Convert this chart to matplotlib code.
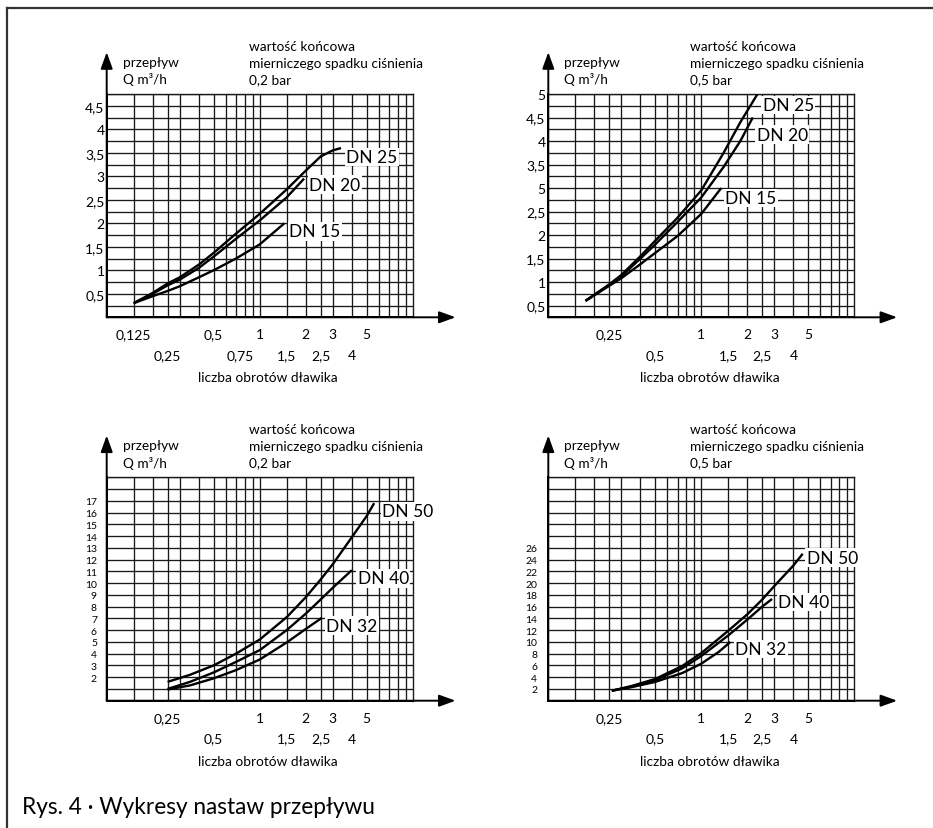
import matplotlib
matplotlib.use("Agg")
import matplotlib.pyplot as plt
from matplotlib.lines import Line2D

plt.rcParams['font.family'] = ['Lato', 'DejaVu Sans']

W, H = 933, 829
fig = plt.figure(figsize=(W / 100, H / 100), dpi=100)

# ---------------- data ----------------
x_grid = [0.15, 0.2, 0.25, 0.3, 0.4, 0.5, 0.6, 0.7, 0.8, 0.9, 1, 1.5, 2, 2.5, 3, 4, 5, 6, 7, 8, 9]

# Panel A: DN15/20/25, 0.2 bar
a_dn25_x = [0.15, 0.2, 0.25, 0.3, 0.4, 0.5, 0.7, 1.0, 1.5, 2.0, 2.5, 3.0, 3.4]
a_dn25_y = [0.3, 0.52, 0.72, 0.85, 1.12, 1.37, 1.78, 2.2, 2.72, 3.12, 3.42, 3.55, 3.6]
a_dn20_x = [0.15, 0.2, 0.25, 0.3, 0.4, 0.5, 0.7, 1.0, 1.5, 1.95]
a_dn20_y = [0.3, 0.5, 0.68, 0.8, 1.05, 1.29, 1.67, 2.06, 2.55, 2.95]
a_dn15_x = [0.15, 0.2, 0.25, 0.3, 0.4, 0.5, 0.7, 1.0, 1.45]
a_dn15_y = [0.3, 0.45, 0.56, 0.66, 0.85, 1.0, 1.25, 1.55, 2.0]

# Panel B: DN15/20/25, 0.5 bar
b_dn25_x = [0.175, 0.25, 0.3, 0.4, 0.5, 0.7, 1.0, 1.4, 1.8, 2.33]
b_dn25_y = [0.6, 0.95, 1.15, 1.55, 1.88, 2.37, 2.95, 3.75, 4.4, 5.0]
b_dn20_x = [0.175, 0.25, 0.3, 0.4, 0.5, 0.7, 1.0, 1.4, 1.8, 2.17]
b_dn20_y = [0.6, 0.93, 1.12, 1.5, 1.8, 2.28, 2.8, 3.45, 4.0, 4.5]
b_dn15_x = [0.175, 0.25, 0.3, 0.4, 0.5, 0.7, 1.0, 1.35]
b_dn15_y = [0.6, 0.92, 1.08, 1.38, 1.62, 1.98, 2.45, 3.0]

# Panel C: DN32/40/50, 0.2 bar
c_dn50_x = [0.25, 0.35, 0.5, 0.7, 1.0, 1.5, 2.0, 2.5, 3.0, 4.0, 5.0, 5.6]
c_dn50_y = [1.6, 2.2, 3.0, 4.0, 5.2, 7.1, 8.8, 10.3, 11.6, 13.9, 15.7, 16.8]
c_dn40_x = [0.25, 0.35, 0.5, 0.7, 1.0, 1.5, 2.0, 2.5, 3.0, 4.0]
c_dn40_y = [1.0, 1.6, 2.4, 3.3, 4.3, 6.0, 7.4, 8.6, 9.6, 11.1]
c_dn32_x = [0.25, 0.35, 0.5, 0.7, 1.0, 1.5, 2.0, 2.55]
c_dn32_y = [0.95, 1.3, 1.9, 2.6, 3.5, 4.95, 6.1, 7.05]

# Panel D: DN32/40/50, 0.5 bar
d_dn50_x = [0.26, 0.35, 0.5, 0.75, 1.0, 1.5, 2.0, 2.5, 3.0, 4.0, 4.6]
d_dn50_y = [1.7, 2.5, 3.7, 5.9, 8.1, 11.9, 14.7, 17.2, 19.5, 23.0, 25.0]
d_dn40_x = [0.26, 0.35, 0.5, 0.75, 1.0, 1.5, 2.0, 2.5, 2.9]
d_dn40_y = [1.7, 2.4, 3.5, 5.5, 7.6, 11.1, 13.8, 16.0, 17.3]
d_dn32_x = [0.26, 0.35, 0.5, 0.75, 1.0, 1.3, 1.55]
d_dn32_y = [1.7, 2.3, 3.2, 4.7, 6.3, 8.3, 10.0]

# tick labels
row1_a = [0.15, 0.5, 1, 2, 3, 5]
row1_a_lbl = ['0,125', '0,5', '1', '2', '3', '5']
row2_a = [0.25, 0.75, 1.5, 2.5, 4]
row2_a_lbl = ['0,25', '0,75', '1,5', '2,5', '4']
row1_b = [0.25, 1, 2, 3, 5]
row1_b_lbl = ['0,25', '1', '2', '3', '5']
row2_b = [0.5, 1.5, 2.5, 4]
row2_b_lbl = ['0,5', '1,5', '2,5', '4']

ya_ticks = [0.5, 1, 1.5, 2, 2.5, 3, 3.5, 4, 4.5]
ya_lbl = ['0,5', '1', '1,5', '2', '2,5', '3', '3,5', '4', '4,5']
ya_grid = [0.25 * i for i in range(1, 20)]
yb_ticks = [0.5, 1, 1.5, 2, 2.5, 3, 3.5, 4, 4.5, 5]
yb_lbl = ['0,5', '1', '1,5', '2', '2,5', '5', '3,5', '4', '4,5', '5']
yb_grid = [0.25 * i for i in range(2, 21)]
yc_ticks = list(range(2, 18))
yc_lbl = [str(v) for v in yc_ticks]
yc_grid = list(range(1, 20))
yd_ticks = list(range(2, 27, 2))
yd_lbl = [str(v) for v in yd_ticks]
yd_grid = list(range(2, 39, 2))

xlabel = 'liczba obrotów dławika'
flow1 = 'przepływ'
flow2 = 'Q m³/h'
end1 = 'wartość końcowa'
end2 = 'mierniczego spadku ciśnienia'

GRID = '#1a1a1a'


def add_axes_px(left, top, right, bottom):
    return fig.add_axes([left / W, 1 - bottom / H, (right - left) / W, (bottom - top) / H])


def panel(rect, ylim, ygrid, yticks, ylbl, yfs, ypad, row1, row1_lbl, row2, row2_lbl,
          curves, pressure):
    ax = add_axes_px(*rect)
    ax.set_xscale('log')
    ax.set_xlim(0.1, 10)
    ax.set_ylim(*ylim)
    for v in x_grid:
        ax.axvline(v, color=GRID, lw=0.95, zorder=1)
    for v in ygrid:
        ax.axhline(v, color=GRID, lw=0.95, zorder=1)
    ax.set_yticks(yticks, ylbl)
    ax.tick_params(axis='y', length=0, pad=ypad, labelsize=yfs)
    ax.set_xticks(row1, row1_lbl)
    ax.set_xticks(row2, row2_lbl, minor=True)
    ax.tick_params(axis='x', which='major', length=0, pad=8, labelsize=10)
    ax.tick_params(axis='x', which='minor', length=0, pad=23, labelsize=10)
    for s in ['top', 'right']:
        ax.spines[s].set_linewidth(1.0)
        ax.spines[s].set_color(GRID)
    for s in ['left', 'bottom']:
        ax.spines[s].set_linewidth(1.4)
        ax.spines[s].set_color('black')
    ast = '-|>,head_length=0.55,head_width=0.2'
    ax.annotate('', xy=(1.14, 0), xytext=(0, 0), xycoords='axes fraction',
                arrowprops=dict(arrowstyle=ast, color='black', lw=1.4,
                                shrinkA=0, shrinkB=0, mutation_scale=18))
    ax.annotate('', xy=(0, 1.187), xytext=(0, 0), xycoords='axes fraction',
                arrowprops=dict(arrowstyle=ast, color='black', lw=1.4,
                                shrinkA=0, shrinkB=0, mutation_scale=18))
    for xs, ys, name, off in curves:
        ax.plot(xs, ys, color='black', lw=1.7, zorder=3, solid_capstyle='butt',
                solid_joinstyle='round')
        ax.annotate(name, xy=(xs[-1], ys[-1]), xytext=off, textcoords='offset pixels',
                    ha='left', va='center', fontsize=12.5, zorder=4,
                    bbox=dict(boxstyle='square,pad=0.08', fc='white', ec='none'))
    kw = dict(xycoords='axes fraction', textcoords='offset pixels', ha='left',
              va='center', fontsize=9.8, annotation_clip=False)
    ax.annotate(flow1, xy=(0, 1), xytext=(16, 32), **kw)
    ax.annotate(flow2, xy=(0, 1), xytext=(16, 15), **kw)
    ax.annotate(end1, xy=(0, 1), xytext=(142, 48), **kw)
    ax.annotate(end2, xy=(0, 1), xytext=(142, 31.5), **kw)
    ax.annotate(pressure, xy=(0, 1), xytext=(142, 15), **kw)
    ax.annotate(xlabel, xy=(0.527, 0), xytext=(0, -60), xycoords='axes fraction',
                textcoords='offset pixels', ha='center', va='center', fontsize=9.8)
    return ax


panel((106.7, 95, 412.7, 318.3), (0, 4.75), ya_grid, ya_ticks, ya_lbl, 10, 1.5,
      row1_a, row1_a_lbl, row2_a, row2_a_lbl,
      [(a_dn25_x, a_dn25_y, 'DN 25', (5, -9)),
       (a_dn20_x, a_dn20_y, 'DN 20', (5, -6)),
       (a_dn15_x, a_dn15_y, 'DN 15', (5, -8))], '0,2 bar')

panel((548.3, 95, 854.3, 318.3), (0.25, 5.0), yb_grid, yb_ticks, yb_lbl, 10, 2,
      row1_b, row1_b_lbl, row2_b, row2_b_lbl,
      [(b_dn25_x, b_dn25_y, 'DN 25', (5, -11)),
       (b_dn20_x, b_dn20_y, 'DN 20', (4, -17)),
       (b_dn15_x, b_dn15_y, 'DN 15', (4, -10))], '0,5 bar')

panel((106.7, 478.3, 412.7, 701.7), (0, 19), yc_grid, yc_ticks, yc_lbl, 7.5, 7,
      row1_b, row1_b_lbl, row2_b, row2_b_lbl,
      [(c_dn50_x, c_dn50_y, 'DN 50', (8, -8)),
       (c_dn40_x, c_dn40_y, 'DN 40', (6, -8)),
       (c_dn32_x, c_dn32_y, 'DN 32', (4, -8))], '0,2 bar')

panel((548.3, 478.3, 854.3, 701.7), (0, 38), yd_grid, yd_ticks, yd_lbl, 7.5, 8,
      row1_b, row1_b_lbl, row2_b, row2_b_lbl,
      [(d_dn50_x, d_dn50_y, 'DN 50', (4, -4)),
       (d_dn40_x, d_dn40_y, 'DN 40', (6, -3)),
       (d_dn32_x, d_dn32_y, 'DN 32', (5, -7))], '0,5 bar')

# frame
fig.add_artist(Line2D([7 / W, 7 / W], [0, 1 - 9 / H], color='#333333', lw=1.6))
fig.add_artist(Line2D([7 / W, 1], [1 - 9 / H, 1 - 9 / H], color='#333333', lw=1.6))

fig.text(22 / W, 1 - 808 / H, 'Rys. 4 · Wykresy nastaw przepływu', fontsize=16.3,
         ha='left', va='center')

fig.savefig('out.png', dpi=100, facecolor='white')
